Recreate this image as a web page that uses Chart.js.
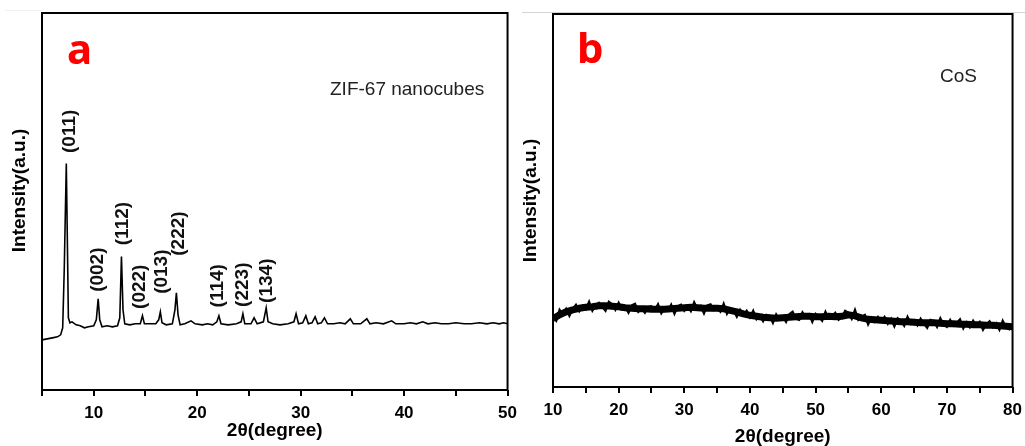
<!DOCTYPE html>
<html>
<head>
<meta charset="utf-8">
<script src="https://cdn.jsdelivr.net/npm/chart.js@4/dist/chart.umd.min.js"></script>
<style>
  html, body { margin: 0; padding: 0; background: #fff; overflow: hidden; }
  body { width: 1025px; height: 446px; position: relative; }
  canvas { position: absolute; top: 0; }
  #izq { left: 0; }
  #der { left: 512px; }
  .raya { position: absolute; height: 1px; }
</style>
</head>
<body>
<div class="raya" style="left:5px;top:10px;width:37px;background:#f0f0f0"></div>
<div class="raya" style="left:522px;top:12px;width:503px;background:#d4d4d4"></div>
<canvas id="izq" width="526" height="446"></canvas>
<canvas id="der" width="519" height="452"></canvas>
<script>
// Datos del panel a (ZIF-67)
const zifAngulo = [5,5.5,6,6.5,6.8, 7.0,7.15,7.35,7.45,7.55, 7.7,7.9,8.3,8.7,9.1, 9.5,10.0,10.25,10.43,10.58,
  10.8,11.3,11.8,12.3,12.52, 12.68,12.83,13.0,13.5,14.0, 14.5,14.71,14.9,15.5,16.0, 16.28,16.44,16.6,17.0,17.6,
  17.85,17.99,18.15,18.35,18.8, 19.4,19.8,20.5,21.0,21.5, 21.9,22.1,22.3,23.0,23.8, 24.25,24.42,24.6,25.2,25.5,
  25.8,26.4,26.67,26.85,27.3, 28.0,28.8,29.35,29.56,29.8, 30.2,30.5,30.75,31.1,31.4, 31.65,32.0,32.3,32.6,33.2,
  33.8,34.3,34.8,35.1,35.8, 36.4,36.7,37.3,38.0,38.8, 39.2,40.0,40.6,41.2,41.8, 42.3,43.0,43.6,44.3,45.0,
  45.8,46.5,47.3,48.0,48.6, 49.2,49.6,50];
const zifIntensidad = [50,51,52,53,55, 62,120,226,150,72, 67,68,65,64,62, 63,64,70,91,70,
  63,64,63,64,72, 133,80,66,65,66, 66,74,66,66,66, 70,78,67,65,66,
  80,97,75,65,66, 69,66,65,66,65, 68,74,66,65,66, 68,76,66,66,72,
  66,68,82,68,66, 65,66,68,76,66, 67,74,66,67,73, 66,67,72,66,66,
  67,66,71,66,66, 71,66,67,66,69, 66,66,67,66,68, 66,67,66,66,67,
  66,66,67,66,67, 66,67,66];

// Índices de Miller y dónde va cada etiqueta
const picosNombre = ['(011)','(002)','(112)','(022)','(013)','(222)','(114)','(223)','(134)'];
const picosAngulo = [7.7, 10.4, 12.8, 14.45, 16.6, 18.2, 22.0, 24.41, 26.75];
const picosAltura = [258, 120, 166, 103, 118, 156, 104, 105, 109];

// Datos del panel b (CoS): fondo amorfo cada 1° y el ruido cada 0.5°
const cosFondoAngulo = [10,11,12,13,14,15,16,17,18,19,20,21,22,23,24,25,26,27,28,29,
  30,31,32,33,34,35,36,37,38,39,40,41,42,43,44,45,46,47,48,49,
  50,51,52,53,54,55,56,57,58,59,60,61,62,63,64,65,66,67,68,69,
  70,71,72,73,74,75,76,77,78,79,80];
const cosFondo = [68,72,75,77,78.5,79.5,80,81,81,80.5,80,79,78.5,78,78,77.5,77.5,77.5,78,78.5,
  79,79.5,79,78.5,78.5,78.5,78,76.5,75,73,71.5,70.5,69.5,69,68.5,69,69.5,70,70.5,70.5,
  70,70,70.5,70,70.5,72,71,69,67.5,67,66.5,66,65.5,65,65,64.5,64,64,64,63.5,
  63,63,62.5,62.5,62,62,61.5,61.5,61,60.5,60];
const cosAngulo = [10,10.5,11,11.5,12,12.5,13,13.5,14,14.5, 15,15.5,16,16.5,17,17.5,18,18.5,19,19.5,
  20,20.5,21,21.5,22,22.5,23,23.5,24,24.5, 25,25.5,26,26.5,27,27.5,28,28.5,29,29.5,
  30,30.5,31,31.5,32,32.5,33,33.5,34,34.5, 35,35.5,36,36.5,37,37.5,38,38.5,39,39.5,
  40,40.5,41,41.5,42,42.5,43,43.5,44,44.5, 45,45.5,46,46.5,47,47.5,48,48.5,49,49.5,
  50,50.5,51,51.5,52,52.5,53,53.5,54,54.5, 55,55.5,56,56.5,57,57.5,58,58.5,59,59.5,
  60,60.5,61,61.5,62,62.5,63,63.5,64,64.5, 65,65.5,66,66.5,67,67.5,68,68.5,69,69.5,
  70,70.5,71,71.5,72,72.5,73,73.5,74,74.5, 75,75.5,76,76.5,77,77.5,78,78.5,79,79.5, 80];
const cosIntensidad = [70,66,77,72.5,78,71,78,82,75.5,81, 77.5,85,76,81.5,84,80,76,85,82.5,77,
  84,77.5,80,74,81.5,83,75,78,74,80, 80.5,76.5,82.5,73.5,78.5,76,82,73,80.5,82,
  76,80,75.5,84.5,78,81,73.5,81.5,82.5,76.5, 78.5,75,83,73,78.5,76.5,70,77,72,76,
  69.5,76,67.5,71,65.5,72,71,64,72.5,67.5, 70,65,72.5,75,68,67,74.5,69.5,72.5,65,
  73,70,66,75,68.5,71,74,67,69.5,76, 74,68,77,67,70,72,62.5,69,65,70,
  65.5,70,63,68,60.5,68.5,66,61,70,63, 66.5,61.5,68,63,59,67,66,60,68.5,62,
  60,67,61,64,67.5,58.5,64.5,59.5,66,61, 65,57,62.5,65.5,59.5,63.5,57,66,59.5,57.5, 61];

const fuente = 'Arial, "Liberation Sans", sans-serif';

// Marco, título del eje y, letra del panel y nombre de la muestra
const marcoPlugin = {
  id: 'marco',
  afterDraw(chart, args, opts) {
    const { ctx, chartArea: a } = chart;
    ctx.save();
    ctx.strokeStyle = '#000';
    ctx.lineWidth = 2;
    ctx.strokeRect(a.left, a.top, a.right - a.left, a.bottom - a.top);

    ctx.save();
    ctx.translate(opts.tituloX, (a.top + a.bottom) / 2 + opts.tituloDy);
    ctx.rotate(-Math.PI / 2);
    ctx.fillStyle = '#000';
    ctx.font = 'bold 19px ' + fuente;
    ctx.textAlign = 'center';
    ctx.textBaseline = 'middle';
    ctx.fillText('Intensity(a.u.)', 0, 0);
    ctx.restore();

    ctx.fillStyle = '#ff0000';
    ctx.font = 'bold 42px "Noto Sans", Arial, sans-serif';
    ctx.textBaseline = 'alphabetic';
    ctx.fillText(opts.letra, a.left + opts.letraX, a.top + opts.letraY);
    ctx.fillStyle = '#222';
    ctx.font = '19px ' + fuente;
    ctx.fillText(opts.muestra, a.left + opts.muestraX, a.top + opts.muestraY);
    ctx.restore();
  }
};

// Etiquetas giradas de los picos
const picosPlugin = {
  id: 'picos',
  afterDatasetsDraw(chart, args, opts) {
    if (!opts.nombres) return;
    const { ctx, scales } = chart;
    ctx.save();
    ctx.fillStyle = '#111';
    ctx.font = 'bold 19px ' + fuente;
    ctx.textAlign = 'center';
    ctx.textBaseline = 'middle';
    opts.nombres.forEach((n, i) => {
      const px = scales.x.getPixelForValue(opts.angulos[i]);
      const py = scales.y.getPixelForValue(opts.alturas[i]);
      ctx.save();
      ctx.translate(px, py);
      ctx.rotate(-Math.PI / 2);
      ctx.fillText(n, 0, 0);
      ctx.restore();
    });
    ctx.restore();
  }
};

function serie(angulos, valores, grosor) {
  return {
    data: angulos.map((a, i) => ({ x: a, y: valores[i] })),
    borderColor: '#000',
    borderWidth: grosor,
    pointRadius: 0,
    tension: 0
  };
}

function crearPanel(id, series, cfg) {
  return new Chart(document.getElementById(id), {
    type: 'line',
    data: { datasets: series },
    options: {
      responsive: false,
      animation: false,
      devicePixelRatio: 1,
      layout: { padding: cfg.padding },
      plugins: {
        legend: { display: false },
        tooltip: { enabled: false },
        marco: cfg.marco,
        picos: cfg.picos || {}
      },
      scales: {
        x: {
          type: 'linear',
          min: cfg.xMin,
          max: cfg.xMax,
          afterFit: s => { s.height = cfg.altoX; },
          ticks: {
            stepSize: 5,
            autoSkip: false,
            maxRotation: 0,
            padding: 9,
            color: '#000',
            font: { family: fuente, size: 17, weight: 'bold', lineHeight: 1 },
            callback: v => (v % 10 === 0 ? v : '')
          },
          grid: { display: true, drawOnChartArea: false, drawTicks: true, tickLength: 6, lineWidth: 2, color: '#000' },
          border: { display: false },
          title: {
            display: true,
            text: '2θ(degree)',
            color: '#000',
            font: { family: fuente, size: 19, weight: 'bold' },
            padding: { top: 0, bottom: 4 }
          }
        },
        y: {
          min: 0,
          max: cfg.yMax,
          afterFit: s => { s.width = 36; },
          ticks: { display: false },
          grid: { display: false },
          border: { display: false }
        }
      }
    },
    plugins: [marcoPlugin, picosPlugin]
  });
}

crearPanel('izq', [serie(zifAngulo, zifIntensidad, 1.6)], {
  xMin: 5, xMax: 50, yMax: 376,
  altoX: 56,
  padding: { left: 6, top: 13, right: 12, bottom: 0 },
  marco: { tituloX: 20, tituloDy: -11, letra: 'a', letraX: 25, letraY: 51, muestra: 'ZIF-67 nanocubes', muestraX: 288, muestraY: 82 },
  picos: { nombres: picosNombre, angulos: picosAngulo, alturas: picosAltura }
});

crearPanel('der', [serie(cosFondoAngulo, cosFondo, 7), serie(cosAngulo, cosIntensidad, 2.2)], {
  xMin: 10, xMax: 80, yMax: 372,
  altoX: 65,
  padding: { left: 5, top: 14, right: 13, bottom: 0 },
  marco: { tituloX: 19, tituloDy: 0, letra: 'b', letraX: 24, letraY: 49, muestra: 'CoS', muestraX: 387, muestraY: 68 }
});
</script>
</body>
</html>
